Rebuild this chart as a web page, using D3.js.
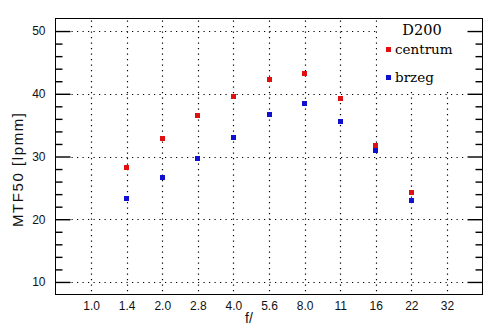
<!DOCTYPE html>
<html>
<head>
<meta charset="utf-8">
<script src="https://cdn.jsdelivr.net/npm/d3@7"></script>
<style>
  html, body { margin: 0; padding: 0; background: #fff; }
  svg { display: block; }
</style>
</head>
<body>
<svg id="chart" width="494" height="331"></svg>
<script>
// f-stops along the x axis
const apertures = ["1.0", "1.4", "2.0", "2.8", "4.0", "5.6", "8.0", "11", "16", "22", "32"];
// MTF50 in lp/mm, centre of frame
const centrum = [
  { f: "1.4", v: 28.2 }, { f: "2.0", v: 32.9 }, { f: "2.8", v: 36.5 },
  { f: "4.0", v: 39.6 }, { f: "5.6", v: 42.3 }, { f: "8.0", v: 43.3 },
  { f: "11", v: 39.3 }, { f: "16", v: 31.7 }, { f: "22", v: 24.2 }
];
// MTF50 in lp/mm, frame edge
const brzeg = [
  { f: "1.4", v: 23.3 }, { f: "2.0", v: 26.6 }, { f: "2.8", v: 29.7 },
  { f: "4.0", v: 33.0 }, { f: "5.6", v: 36.7 }, { f: "8.0", v: 38.5 },
  { f: "11", v: 35.6 }, { f: "16", v: 31.0 }, { f: "22", v: 23.0 }
];
const yMajor = [10, 20, 30, 40, 50];
const yMinor = d3.range(10, 51, 2).filter(v => v % 10 !== 0);

const svg = d3.select("#chart");
const L = 55.5, R = 482.5, T = 18.5, B = 294.5;

const x = d3.scalePoint().domain(apertures).range([L, R]).padding(1);
const y = d3.scaleLinear().domain([8, 52]).range([B, T]);

const sans = "'Liberation Sans', Arial, sans-serif";
const serif = "'DejaVu Serif', serif";

// dotted grid
const grid = svg.append("g").attr("stroke", "#000").attr("stroke-width", 1.2)
  .attr("stroke-dasharray", "1.2,4.3");
grid.selectAll("line.h").data(yMajor).join("line")
  .attr("x1", L + 16).attr("x2", R - 16)
  .attr("y1", d => Math.round(y(d)) + 0.5).attr("y2", d => Math.round(y(d)) + 0.5);
grid.selectAll("line.v").data(apertures).join("line")
  .attr("x1", d => Math.round(x(d)) + 0.5).attr("x2", d => Math.round(x(d)) + 0.5)
  .attr("y1", T + 2).attr("y2", B - 2);

// legend background
svg.append("rect").attr("x", 377).attr("y", T + 1).attr("width", 89).attr("height", 72)
  .attr("fill", "#fff");

// frame
svg.append("rect").attr("x", L).attr("y", T).attr("width", R - L).attr("height", B - T)
  .attr("fill", "none").attr("stroke", "#000").attr("stroke-width", 1);

// y ticks on both sides, pointing inward
const leftAxis = d3.axisRight(y).tickValues(yMajor).tickSize(15).tickFormat("");
const leftMinor = d3.axisRight(y).tickValues(yMinor).tickSize(7).tickFormat("");
const rightAxis = d3.axisLeft(y).tickValues(yMajor).tickSize(15).tickFormat("");
const rightMinor = d3.axisLeft(y).tickValues(yMinor).tickSize(7).tickFormat("");
[[leftAxis, L], [leftMinor, L], [rightAxis, R], [rightMinor, R]].forEach(([ax, pos]) => {
  const g = svg.append("g").attr("transform", `translate(${pos},0)`).call(ax);
  g.select(".domain").remove();
  g.selectAll("line").attr("stroke", "#000").attr("stroke-width", 1.4);
});

// y tick labels
svg.append("g").selectAll("text").data(yMajor).join("text")
  .attr("x", 45.5).attr("y", d => y(d)).attr("dy", "0.36em")
  .attr("text-anchor", "end").attr("font-family", sans).attr("font-size", 12)
  .attr("fill", "#111").text(d => d);

// x axis labels
const xAxis = d3.axisBottom(x).tickSize(0).tickPadding(0);
const gx = svg.append("g").attr("transform", `translate(0,${B})`).call(xAxis);
gx.select(".domain").remove();
gx.selectAll("text").attr("y", 15).attr("dy", 0).attr("font-family", sans)
  .attr("font-size", 12).attr("fill", "#111");

// axis titles
svg.append("text").attr("x", 249).attr("y", 323).attr("text-anchor", "middle")
  .attr("font-family", sans).attr("font-size", 14).attr("fill", "#111").text("f/");
svg.append("text").attr("transform", "translate(23,170) rotate(-90)")
  .attr("text-anchor", "middle").attr("font-family", sans).attr("font-size", 15)
  .attr("fill", "#111").attr("textLength", 114).attr("lengthAdjust", "spacing")
  .text("MTF50 [lpmm]");

// data points
const sq = 5;
function drawSeries(data, color) {
  svg.append("g").selectAll("rect").data(data).join("rect")
    .attr("x", d => Math.round(x(d.f) - sq / 2)).attr("y", d => Math.round(y(d.v) - sq / 2))
    .attr("width", sq).attr("height", sq).attr("fill", color);
}
drawSeries(centrum, "#e01010");
drawSeries(brzeg, "#1010d0");

// legend
svg.append("text").attr("x", 422).attr("y", 34.5).attr("text-anchor", "middle")
  .attr("font-family", serif).attr("font-size", 14.5).attr("fill", "#000").text("D200");
const legend = [{ name: "centrum", color: "#e01010", yy: 54 }, { name: "brzeg", color: "#1010d0", yy: 82 }];
const lg = svg.append("g").selectAll("g").data(legend).join("g");
lg.append("rect").attr("x", 386).attr("y", d => d.yy - 7).attr("width", 5).attr("height", 5)
  .attr("fill", d => d.color);
lg.append("text").attr("x", 395).attr("y", d => d.yy).attr("font-family", serif)
  .attr("font-size", 13.5).attr("fill", "#000").text(d => d.name);
</script>
</body>
</html>
